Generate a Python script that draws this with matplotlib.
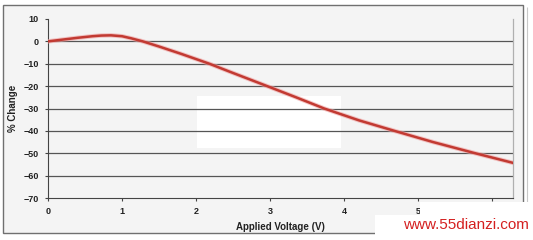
import matplotlib
matplotlib.use("Agg")
import matplotlib.pyplot as plt
from matplotlib.patches import Rectangle

# values
voltage = [0.0, 0.2, 0.4, 0.6, 0.72, 0.85, 1.0, 1.12, 1.28, 1.5, 1.8, 2.18, 2.45,
           2.96, 3.35, 3.73, 4.2, 4.7, 5.2, 5.77, 6.28]
pct_change = [0.0, 0.8, 1.6, 2.3, 2.6, 2.7, 2.3, 1.4, 0.0, -2.3, -5.6, -10.0, -13.5,
              -20.0, -25.0, -30.0, -35.3, -40.2, -45.0, -50.0, -54.3]
x_ticks = [0, 1, 2, 3, 4, 5, 6]
y_ticks = [10, 0, -10, -20, -30, -40, -50, -60, -70]

plt.rcParams['font.family'] = ['Liberation Sans', 'DejaVu Sans']

fig = plt.figure(figsize=(5.33, 2.40), dpi=100)
fig.patch.set_facecolor('white')

# outer chart frame
fig.patches.append(Rectangle((3 / 533, 1 - 233 / 240), 520 / 533, 228 / 240,
                             transform=fig.transFigure, facecolor='#f4f4f4',
                             edgecolor='#707070', linewidth=1.0, zorder=-3))
fig.patches.append(Rectangle((527 / 533, 1 - 233 / 240), 0, 226 / 240,
                             transform=fig.transFigure, fill=False,
                             edgecolor='#c8c8c8', linewidth=0.8, zorder=-3))

ax = fig.add_axes([48 / 533, 1 - 198 / 240, 465 / 533, 179 / 240])
ax.set_facecolor('none')
ax.set_xlim(0, 6.28)
ax.set_ylim(-70, 10)

# faded legend box
ax.axhspan(-47.5, -24.5, xmin=0.32, xmax=0.63, facecolor='white',
           edgecolor='none', zorder=0.5)

ax.hlines(y_ticks[1:-1], 0, 6.28, colors='#555555', linewidth=0.9, zorder=2)

ax.plot(voltage, pct_change, color='#f0a0a0', linewidth=3.2, alpha=0.6, zorder=3)
ax.plot(voltage, pct_change, color='#c23a32', linewidth=1.8, zorder=4)

ax.set_xticks(x_ticks)
ax.set_yticks(y_ticks)
ax.tick_params(axis='both', labelsize=6.5, length=2.5, width=0.8, color='#444444',
               pad=4)
for lab in ax.get_xticklabels() + ax.get_yticklabels():
    lab.set_fontweight('bold')
    lab.set_color('#222222')

ax.spines['top'].set_visible(False)
ax.spines['right'].set_color('#b0b0b0')
ax.spines['right'].set_linewidth(0.9)
ax.spines['left'].set_color('#444444')
ax.spines['bottom'].set_color('#444444')

ax.set_xlabel('Applied Voltage (V)', fontsize=7, fontweight='bold', labelpad=4,
              color='#222222')
ax.set_ylabel('% Change', fontsize=7, fontweight='bold', labelpad=4,
              color='#222222')

# watermark patch
fig.patches.append(Rectangle((420 / 533, 0), 113 / 533, 38 / 240,
                             transform=fig.transFigure, facecolor='white',
                             edgecolor='none', zorder=5))
fig.patches.append(Rectangle((375 / 533, 0), 158 / 533, 25 / 240,
                             transform=fig.transFigure, facecolor='white',
                             edgecolor='none', zorder=5))
fig.text(466 / 533, 1 - 225 / 240, 'www.55dianzi.com', color='#d42020',
         fontsize=11, ha='center', va='center', zorder=6)

fig.savefig('out.png', dpi=100)
